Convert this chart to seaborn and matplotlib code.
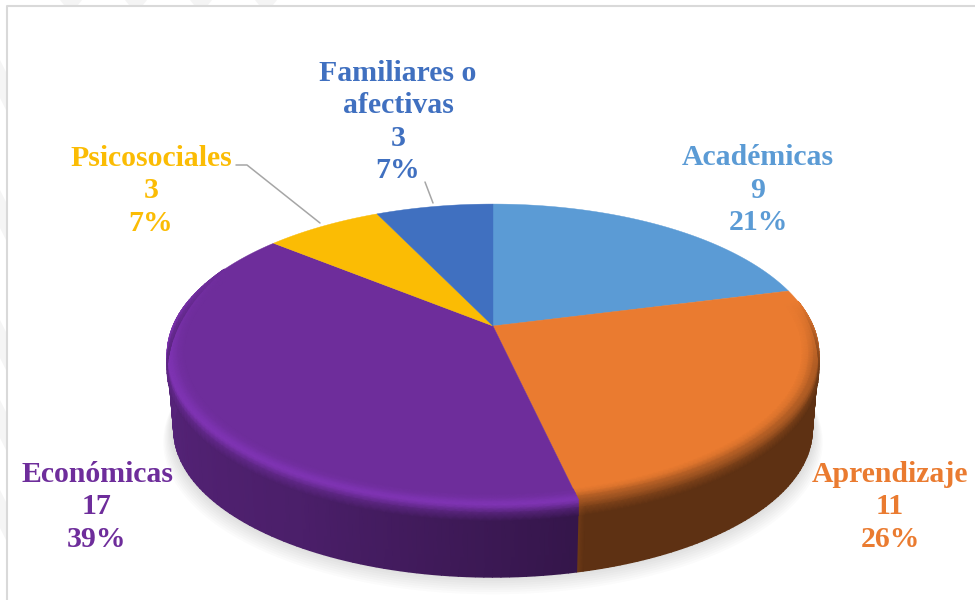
import numpy as np
import matplotlib
matplotlib.use("Agg")
import matplotlib.pyplot as plt
import seaborn as sns

categorias = ["Académicas", "Aprendizaje", "Económicas", "Psicosociales", "Familiares o\nafectivas"]
valores = [9, 11, 17, 3, 3]
porcentajes = [21, 26, 39, 7, 7]
colores = ["#5B9BD5", "#EA7B30", "#6E2D9B", "#FBBC04", "#4070C0"]

sns.set_theme(style="white")
plt.rcParams["font.family"] = ["Liberation Serif", "DejaVu Serif"]
paleta = np.array(sns.color_palette(colores))

# pie geometry in pixels of the picture
cx, cy = 493, 326
A, B, k = 320, 145, 0.189
alto = 76
escala_base = 0.98

fig, ax = plt.subplots(figsize=(9.75, 6), dpi=100)
fig.subplots_adjust(0, 0, 1, 1)
ax.set_xlim(0, 975)
ax.set_ylim(600, 0)
ax.axis("off")


def proyectar(theta, r=1.0, z=0.0, s=1.0):
    t = np.radians(theta)
    X, Y = r * np.sin(t), r * np.cos(t)
    w = 1 + k * Y
    return cx + s * A * X / w, cy - s * B * Y / w + z


# faint marks of the page behind the chart frame
for y0 in [60, 190, 320, 400, 490]:
    ax.fill([0, 6, 6, 0], [y0, y0 + 12, y0 + 50, y0 + 38], color="#f5f5f5", lw=0)
for x0 in [60, 125, 190, 255]:
    ax.fill([x0, x0 + 22, x0 + 18, x0 + 4], [0, 0, 5, 5], color="#f4f4f4", lw=0)
ax.plot([7, 7, 975], [600, 6, 6], color="#d9d9d9", lw=1.5)

limites = 360 * np.cumsum([0] + valores) / sum(valores)

# soft shadow under the pie
vuelta = np.linspace(0, 360, 721)
for i in range(1, 10):
    x, y = proyectar(vuelta, z=alto + i * 1.6 - 3, s=escala_base + 0.0035 * i)
    ax.fill(x, y, color="#707070", alpha=0.028, lw=0, zorder=1)


def sombra(theta):
    # side lighting, dark on the right, lighter towards the left
    return np.interp(theta, [90, 167.3, 167.4, 210, 270], [0.40, 0.40, 0.48, 0.68, 0.80])


ganancia = [1.05, 0.72, 1.16, 1.05, 1.05]


def malla(n, t_ini, t_fin, radios, caidas, escalas, mezcla, zorder):
    # one smooth patch of the rim or the side for slice n
    t0, t1 = max(limites[n], t_ini), min(limites[n + 1], t_fin)
    if t1 <= t0:
        return
    th = np.linspace(t0, t1, 90)
    filas_x, filas_y, filas_c = [], [], []
    vis = np.clip((th - 80) / 25, 0, 1) * np.clip((295 - th) / 30, 0, 1)
    base = paleta[n]
    borde = np.clip(base * ganancia[n], 0, 1)
    for r, z, s, m in zip(radios, caidas, escalas, mezcla):
        x, y = proyectar(th, r, z * vis, s)
        lado = base[None, :] * sombra(th)[:, None]
        if m <= 1:
            c = base[None, :] + (borde - base)[None, :] * (m * vis)[:, None]
        else:
            c = borde[None, :] + (lado - borde[None, :]) * (m - 1)
            c = base[None, :] + (c - base[None, :]) * vis[:, None]
        filas_x.append(x)
        filas_y.append(y)
        filas_c.append(c)
    ax.pcolormesh(np.array(filas_x), np.array(filas_y), np.clip(np.array(filas_c), 0, 1),
                  shading="gouraud", zorder=zorder, antialiased=True)


def lateral(n):
    # plain side wall of slice n, no rim
    t0, t1 = max(limites[n], 80), min(limites[n + 1], 280)
    if t1 <= t0:
        return
    th = np.linspace(t0, t1, 90)
    x0, y0 = proyectar(th)
    x1, y1 = proyectar(th, z=alto, s=escala_base)
    c = paleta[n][None, :] * sombra(th)[:, None]
    ax.pcolormesh(np.array([x0, x1]), np.array([y0, y1]), np.clip(np.array([c, c]), 0, 1),
                  shading="gouraud", zorder=2, antialiased=True)


# side first, the flat top over it, the rim last
for n in range(len(valores)):
    lateral(n)

for n in range(len(valores)):
    th = np.linspace(limites[n], limites[n + 1], 200)
    x, y = proyectar(th)
    ax.fill(np.r_[cx, x], np.r_[cy, y], color=paleta[n], lw=0.3, zorder=3)

for n in range(len(valores)):
    malla(n, 80, 295, [0.95, 0.97, 0.985, 1, 1, 1, 1], [0, 0, 0, 0, 4, 8, 16], [1] * 7,
          [0, 0.3, 0.75, 1, 1.25, 1.6, 2], 4)

# leader lines
ax.plot([236, 247, 320], [165, 165, 223], color="#a6a6a6", lw=1.1, zorder=5)
ax.plot([425, 433], [182, 203], color="#a6a6a6", lw=1.1, zorder=5)

pos_x = [758, 890, 97, 151, 398]
pos_y = [190, 507, 507, 191, 122]
for n, cat in enumerate(categorias):
    ax.text(pos_x[n], pos_y[n], f"{cat}\n{valores[n]}\n{porcentajes[n]}%", color=colores[n],
            ha="center", va="center", fontsize=21.4, fontweight="bold", linespacing=1.26, zorder=6)

fig.savefig("out.png", dpi=100)
